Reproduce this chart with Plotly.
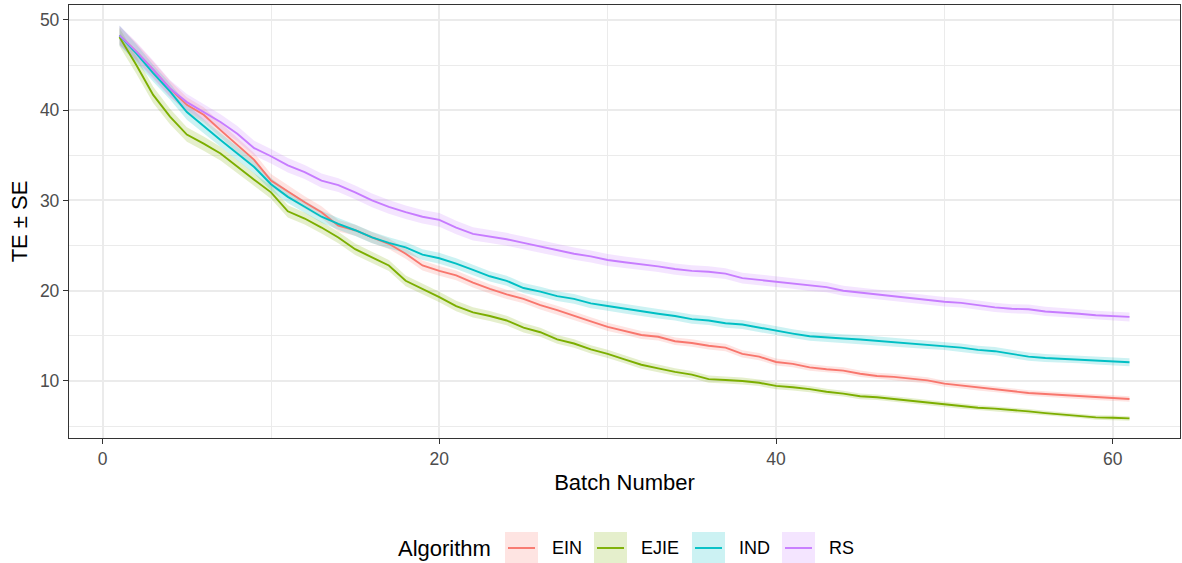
import plotly.graph_objects as go

batch = list(range(1, 62))
algorithms = ["EIN", "EJIE", "IND", "RS"]
colors = {"EIN": "#F8766D", "EJIE": "#7CAE00", "IND": "#00BFC4", "RS": "#C77CFF"}
fills = {"EIN": "rgba(248,118,109,0.2)", "EJIE": "rgba(124,174,0,0.2)",
         "IND": "rgba(0,191,196,0.2)", "RS": "rgba(199,124,255,0.2)"}

te_ein = [48.3, 46.5, 44.5, 42.4, 40.6, 39.5, 37.8, 36.1, 34.5, 32.2,
          31.0, 29.8, 28.7, 27.2, 26.7, 25.9, 25.2, 24.1, 22.8, 22.2,
          21.7, 20.9, 20.2, 19.6, 19.1, 18.4, 17.85, 17.2, 16.6, 16.0,
          15.55, 15.1, 14.9, 14.4, 14.2, 13.9, 13.7, 13.0, 12.7, 12.1,
          11.9, 11.5, 11.3, 11.15, 10.8, 10.55, 10.45, 10.25, 10.07, 9.7,
          9.5, 9.26, 9.04, 8.9, 8.67, 8.56, 8.44, 8.3, 8.2, 8.07, 8.0]
te_ejie = [48.1, 45.0, 41.7, 39.3, 37.3, 36.3, 35.2, 33.7, 32.3, 30.9,
           28.8, 28.0, 27.0, 25.9, 24.6, 23.7, 22.8, 21.1, 20.2, 19.3,
           18.3, 17.6, 17.2, 16.7, 15.9, 15.4, 14.6, 14.15, 13.5, 13.0,
           12.4, 11.8, 11.4, 11.0, 10.7, 10.2, 10.1, 10.0, 9.8, 9.45,
           9.3, 9.1, 8.8, 8.6, 8.3, 8.2, 8.0, 7.8, 7.56, 7.4,
           7.19, 7.04, 6.93, 6.8, 6.63, 6.44, 6.3, 6.15, 5.96, 5.93, 5.85]
te_ind = [48.3, 46.3, 44.1, 42.1, 39.8, 38.2, 36.7, 35.2, 33.7, 31.8,
          30.4, 29.3, 28.2, 27.4, 26.7, 25.9, 25.3, 24.8, 24.0, 23.6,
          23.0, 22.3, 21.6, 21.1, 20.3, 19.9, 19.4, 19.1, 18.6, 18.3,
          18.0, 17.7, 17.45, 17.2, 16.85, 16.7, 16.4, 16.25, 15.9, 15.6,
          15.25, 14.95, 14.8, 14.7, 14.6, 14.45, 14.3, 14.15, 14.0, 13.9,
          13.7, 13.45, 13.3, 13.0, 12.7, 12.55, 12.45, 12.4, 12.26, 12.15, 12.07]
te_rs = [48.3, 46.5, 44.5, 42.4, 40.9, 39.8, 38.7, 37.4, 35.8, 34.9,
         33.9, 33.15, 32.2, 31.7, 30.9, 30.0, 29.3, 28.7, 28.2, 27.85,
         27.0, 26.3, 26.0, 25.7, 25.3, 24.9, 24.5, 24.1, 23.8, 23.4,
         23.15, 22.95, 22.7, 22.4, 22.2, 22.1, 21.9, 21.4, 21.2, 21.0,
         20.8, 20.55, 20.4, 20.0, 19.8, 19.6, 19.4, 19.2, 18.96, 18.78,
         18.65, 18.4, 18.15, 18.0, 17.95, 17.7, 17.6, 17.45, 17.28, 17.2, 17.1]

se_ein = [1.0, 0.95, 0.9, 0.88, 0.85, 0.82, 0.8, 0.78, 0.75, 0.72,
          0.7, 0.68, 0.66, 0.64, 0.62, 0.6, 0.58, 0.57, 0.56, 0.55,
          0.54, 0.53, 0.52, 0.51, 0.5, 0.49, 0.48, 0.47, 0.46, 0.45,
          0.44, 0.44, 0.43, 0.42, 0.42, 0.41, 0.41, 0.4, 0.4, 0.39,
          0.38, 0.38, 0.37, 0.36, 0.36, 0.35, 0.35, 0.34, 0.34, 0.33,
          0.33, 0.32, 0.32, 0.32, 0.31, 0.31, 0.31, 0.3, 0.3, 0.3, 0.3]
se_ejie = [1.0, 0.95, 0.9, 0.85, 0.8, 0.78, 0.76, 0.74, 0.72, 0.7,
           0.68, 0.66, 0.65, 0.64, 0.63, 0.62, 0.61, 0.6, 0.6, 0.59,
           0.58, 0.56, 0.55, 0.54, 0.52, 0.5, 0.49, 0.48, 0.47, 0.46,
           0.45, 0.44, 0.43, 0.42, 0.41, 0.4, 0.39, 0.38, 0.37, 0.36,
           0.35, 0.34, 0.33, 0.32, 0.32, 0.31, 0.3, 0.3, 0.29, 0.29,
           0.28, 0.28, 0.27, 0.27, 0.26, 0.26, 0.26, 0.25, 0.25, 0.25, 0.25]
se_ind = [1.1, 1.0, 0.95, 0.9, 0.85, 0.8, 0.77, 0.74, 0.72, 0.7,
          0.68, 0.67, 0.66, 0.65, 0.64, 0.63, 0.62, 0.61, 0.6, 0.6,
          0.59, 0.58, 0.57, 0.56, 0.56, 0.55, 0.55, 0.54, 0.54, 0.53,
          0.53, 0.52, 0.52, 0.51, 0.51, 0.5, 0.5, 0.5, 0.5, 0.49,
          0.49, 0.49, 0.48, 0.48, 0.48, 0.47, 0.47, 0.47, 0.46, 0.46,
          0.46, 0.46, 0.45, 0.45, 0.45, 0.45, 0.45, 0.44, 0.44, 0.44, 0.44]
se_rs = [1.1, 1.05, 1.0, 0.95, 0.9, 0.88, 0.86, 0.84, 0.82, 0.8,
         0.8, 0.78, 0.78, 0.77, 0.77, 0.76, 0.76, 0.75, 0.75, 0.75,
         0.74, 0.73, 0.72, 0.71, 0.7, 0.7, 0.69, 0.68, 0.67, 0.66,
         0.65, 0.64, 0.63, 0.62, 0.62, 0.61, 0.6, 0.6, 0.59, 0.58,
         0.58, 0.57, 0.56, 0.56, 0.55, 0.55, 0.54, 0.54, 0.53, 0.53,
         0.52, 0.52, 0.52, 0.51, 0.51, 0.51, 0.5, 0.5, 0.5, 0.5, 0.5]

te = {"EIN": te_ein, "EJIE": te_ejie, "IND": te_ind, "RS": te_rs}
se = {"EIN": se_ein, "EJIE": se_ejie, "IND": se_ind, "RS": se_rs}

fig = go.Figure()
# ribbons first
for a in algorithms:
    upper = [m + s for m, s in zip(te[a], se[a])]
    lower = [m - s for m, s in zip(te[a], se[a])]
    fig.add_trace(go.Scatter(
        x=batch + batch[::-1], y=upper + lower[::-1],
        fill="toself", fillcolor=fills[a], line=dict(width=0),
        mode="lines", hoverinfo="skip", showlegend=False))
# lines on top
for a in algorithms:
    fig.add_trace(go.Scatter(
        x=batch, y=te[a], mode="lines", name=a,
        line=dict(color=colors[a], width=1.9), showlegend=False))

W, H = 1182, 563
L, R, T, B = 69, 2, 5, 125
pw, ph = W - L - R, H - T - B

def px(x):
    return (x - L) / pw

def py(y):
    return (H - B - y) / ph

shapes = []
annotations = [dict(text="Algorithm", x=px(396), y=py(548), xref="paper", yref="paper",
                    xanchor="left", yanchor="middle", showarrow=False,
                    font=dict(size=22, color="black"))]
box_left = [505, 594, 692, 782]
for a, bx in zip(algorithms, box_left):
    shapes.append(dict(type="rect", xref="paper", yref="paper",
                       x0=px(bx), x1=px(bx + 33), y0=py(532), y1=py(564),
                       fillcolor=fills[a], line=dict(width=0), layer="above"))
    shapes.append(dict(type="line", xref="paper", yref="paper",
                       x0=px(bx + 3), x1=px(bx + 30), y0=py(548), y1=py(548),
                       line=dict(color=colors[a], width=1.9), layer="above"))
    annotations.append(dict(text=a, x=px(bx + 45), y=py(548), xref="paper", yref="paper",
                            xanchor="left", yanchor="middle", showarrow=False,
                            font=dict(size=18, color="black")))

axis_common = dict(
    showline=True, linecolor="#333333", linewidth=1.3, mirror=True,
    ticks="outside", ticklen=5, tickwidth=1.3, tickcolor="#333333",
    tickfont=dict(size=17.5, color="#4D4D4D"),
    showgrid=True, gridcolor="#EBEBEB", gridwidth=1.5, zeroline=False,
)

fig.update_layout(
    width=W, height=H,
    margin=dict(l=L, r=R, t=T, b=B),
    paper_bgcolor="white", plot_bgcolor="white",
    font=dict(family="Liberation Sans, Arial, sans-serif", color="black"),
    xaxis=dict(range=[-2, 64], tickvals=[0, 20, 40, 60],
               minor=dict(tickvals=[10, 30, 50], showgrid=True, gridcolor="#EBEBEB",
                          gridwidth=0.8, ticks=""),
               title=dict(text="Batch Number", font=dict(size=22, color="black"), standoff=6),
               **axis_common),
    yaxis=dict(range=[3.68, 51.66], tickvals=[10, 20, 30, 40, 50],
               minor=dict(tickvals=[5, 15, 25, 35, 45], showgrid=True, gridcolor="#EBEBEB",
                          gridwidth=0.8, ticks=""),
               title=dict(text="TE ± SE", font=dict(size=22, color="black"), standoff=6),
               **axis_common),
    shapes=shapes, annotations=annotations,
    showlegend=False,
)

fig.write_html("out.html", config={"displayModeBar": False},
               post_script="document.body.style.margin='0px';")
